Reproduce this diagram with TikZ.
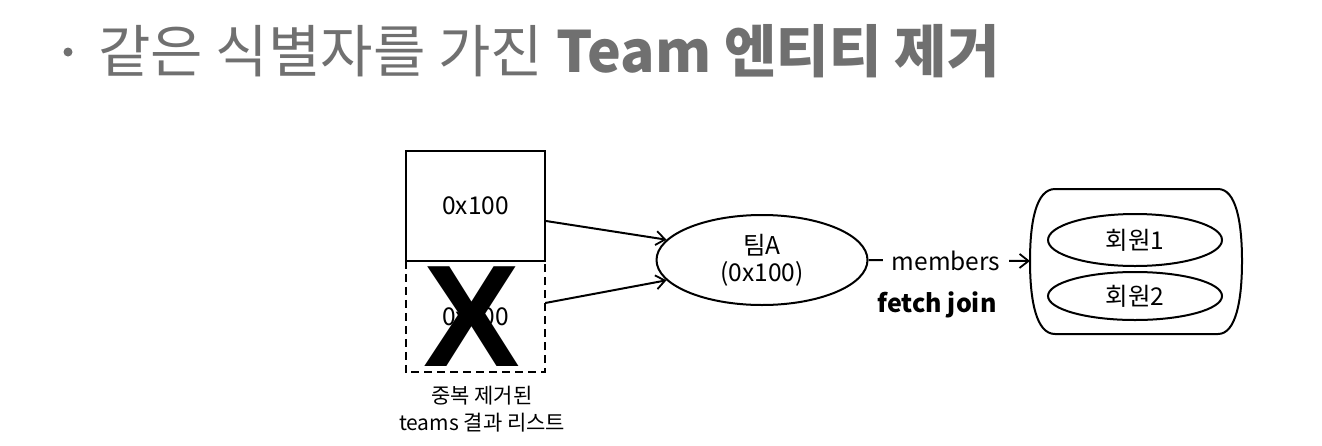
\documentclass[tikz,border=0pt]{standalone}
\usepackage{fontspec}
\setmainfont{Noto Sans CJK KR}
\newfontfamily\xfont{Liberation Sans}
\usetikzlibrary{shapes.geometric,arrows.meta}
\definecolor{titlegray}{HTML}{707070}
\tikzset{
  ln/.style={line width=2pt},
  arr/.style={ln,-{Straight Barb[length=9pt,width=14pt,line width=1.8pt]}},
  lbl/.style={font=\fontsize{24.5}{29}\selectfont, align=center, inner sep=0pt},
  ell/.style={ellipse, draw, ln, inner sep=0pt, font=\fontsize{24.5}{27}\selectfont, align=center},
}
\begin{document}
\begin{tikzpicture}[x=1pt,y=-1pt]
\useasboundingbox (0,0) rectangle (1322,445);
% title
\fill[titlegray] (68,52) circle (4.5);
\node[anchor=west, text=titlegray, inner sep=0pt, font=\fontsize{57}{64}\selectfont] (title) at (98,51) {같은 식별자를 가진 \textbf{Team 엔티티 제거}};
% boxes
\node[draw, ln, minimum width=139pt, minimum height=110pt, inner sep=0pt, lbl] (box1) at (475.5,206) {0x100};
\node[minimum width=139pt, minimum height=111pt, inner sep=0pt, lbl] (box2) at (475.5,316.5) {0x100};
\draw[ln, dash pattern=on 8pt off 5pt] (box2.north west) -- (box2.south west) -- (box2.south east) -- (box2.north east);
\node[inner sep=0pt, font=\xfont\bfseries\fontsize{145}{145}\selectfont] (xmark) at (472,317) {X};
\node[lbl, font=\fontsize{21}{27}\selectfont] (cap) at (482,409) {중복 제거된\\teams 결과 리스트};
% team
\node[ell, minimum width=211pt, minimum height=90pt] (team) at (762,260) {팀A\\(0x100)};
\draw[arr] (box1.east |- 0,221) -- (team.168);
\draw[arr] (box2.east |- 0,303) -- (team.192);
% container
\coordinate (cont) at (1030,261);
\draw[ln] (1055,189) -- (1218,189) .. controls (1236,189) and (1242,222) .. (1242,261)
  .. controls (1242,300) and (1236,334) .. (1218,334) -- (1055,334)
  .. controls (1036,334) and (1030,300) .. (1030,261)
  .. controls (1030,222) and (1036,189) .. (1055,189) -- cycle;
\node[ell, minimum width=174pt, minimum height=52pt] (m1) at (1135,240) {회원1};
\node[ell, minimum width=174pt, minimum height=48pt] (m2) at (1135,296) {회원2};
\draw[arr] (team.east) -- node[lbl, fill=white, inner xsep=9pt, inner ysep=4pt, pos=0.48] (mem) {members} (cont);
\node[font=\fontsize{25}{30}\selectfont\bfseries, inner sep=0pt] (fj) at (937,305) {fetch join};
\end{tikzpicture}
\end{document}
